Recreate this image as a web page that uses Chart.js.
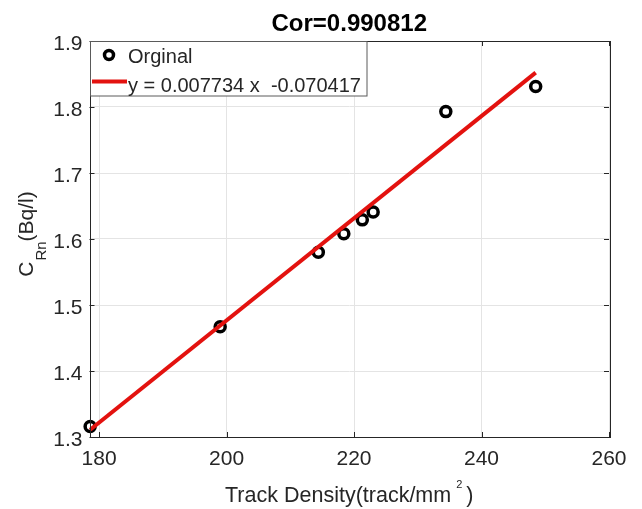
<!DOCTYPE html>
<html><head><meta charset="utf-8">
<script src="https://cdn.jsdelivr.net/npm/chart.js@4"></script>
<style>html,body{margin:0;padding:0;background:#fff}#wrap{width:642px;height:509px}</style>
</head><body><div id="wrap"><canvas id="c" width="642" height="509"></canvas></div>
<script>
const trackDensity = [178.6, 199.0, 214.4, 218.4, 221.3, 223.0, 234.4, 248.5];
const cRn = [1.316, 1.467, 1.580, 1.608, 1.629, 1.641, 1.793, 1.831];
const fitX = [178.6, 248.5];
const fitY = [1.311, 1.852];
const xTicks = [180, 200, 220, 240, 260];
const yTicks = [1.3, 1.4, 1.5, 1.6, 1.7, 1.8, 1.9];
const titleText = 'Cor=0.990812';
const legendLabels = ['Orginal', 'y = 0.007734 x  -0.070417'];
const xTitle = ['Track Density(track/mm', '2', ')'];
const yTitle = ['C', 'Rn', '(Bq/l)'];

const FONT = '"Liberation Sans", Arial, Helvetica, sans-serif';
const TXT = '#262626';
const RED = '#e3120f';

const decor = {
  id: 'decor',
  afterDraw(chart) {
    const ctx = chart.ctx, a = chart.chartArea;
    const xs = chart.scales.x, ys = chart.scales.y;
    ctx.save();
    // box
    ctx.strokeStyle = TXT; ctx.lineWidth = 1;
    ctx.strokeRect(Math.round(a.left) + 0.5, Math.round(a.top) + 0.5, Math.round(a.right - a.left), Math.round(a.bottom - a.top));
    // inward ticks
    ctx.beginPath();
    xTicks.forEach(v => {
      const px = Math.round(xs.getPixelForValue(v)) + 0.5;
      ctx.moveTo(px, a.bottom); ctx.lineTo(px, a.bottom - 5);
      ctx.moveTo(px, a.top); ctx.lineTo(px, a.top + 5);
    });
    yTicks.forEach(v => {
      const py = Math.round(ys.getPixelForValue(v)) + 0.5;
      ctx.moveTo(a.left, py); ctx.lineTo(a.left + 5, py);
      ctx.moveTo(a.right, py); ctx.lineTo(a.right - 5, py);
    });
    ctx.stroke();
    // title
    ctx.fillStyle = '#000';
    ctx.font = 'bold 24px ' + FONT;
    ctx.textAlign = 'center'; ctx.textBaseline = 'alphabetic';
    ctx.fillText(titleText, (a.left + a.right) / 2, 31);
    // x title
    ctx.fillStyle = TXT;
    ctx.textAlign = 'left';
    ctx.font = '21.5px ' + FONT;
    const w1 = ctx.measureText(xTitle[0]).width;
    const w3 = ctx.measureText(xTitle[2]).width;
    ctx.font = '11px ' + FONT;
    const w2 = ctx.measureText(xTitle[1]).width;
    const total = w1 + 5 + w2 + 4 + w3;
    let x0 = (a.left + a.right) / 2 - total / 2;
    const by = 502;
    ctx.font = '21.5px ' + FONT;
    ctx.fillText(xTitle[0], x0, by);
    ctx.font = '11px ' + FONT;
    ctx.fillText(xTitle[1], x0 + w1 + 5, by - 14);
    ctx.font = '21.5px ' + FONT;
    ctx.fillText(xTitle[2], x0 + w1 + 5 + w2 + 4, by);
    // y title
    ctx.save();
    ctx.translate(33, 234);
    ctx.rotate(-Math.PI / 2);
    ctx.font = '21px ' + FONT;
    const c1 = ctx.measureText(yTitle[0]).width;
    const c3 = ctx.measureText(yTitle[2]).width;
    ctx.font = '15px ' + FONT;
    const c2 = ctx.measureText(yTitle[1]).width;
    const tt = c1 + c2 + c3 + 1;
    let sx = -tt / 2;
    ctx.font = '21px ' + FONT;
    ctx.fillText(yTitle[0], sx, 0);
    ctx.font = '15px ' + FONT;
    ctx.fillText(yTitle[1], sx + c1 + 1, 13);
    ctx.font = '21px ' + FONT;
    ctx.fillText(yTitle[2], sx + c1 + 1 + c2, 0);
    ctx.restore();
    // legend
    const L = 90, T = 41.5, R = 366.5, B = 96;
    ctx.fillStyle = '#fff';
    ctx.fillRect(L, T, R - L, B - T);
    ctx.strokeStyle = '#5a5a5a'; ctx.lineWidth = 1;
    ctx.strokeRect(L + 0.5, T, R - L, B - T);
    ctx.beginPath();
    ctx.arc(109, 55, 4.5, 0, Math.PI * 2);
    ctx.strokeStyle = '#000'; ctx.lineWidth = 3.5; ctx.stroke();
    ctx.beginPath();
    ctx.moveTo(92, 81.5); ctx.lineTo(127, 81.5);
    ctx.strokeStyle = RED; ctx.lineWidth = 4; ctx.stroke();
    ctx.fillStyle = TXT;
    ctx.font = '20px ' + FONT;
    ctx.fillText(legendLabels[0], 128, 63);
    ctx.fillText(legendLabels[1], 128, 92);
    ctx.restore();
  }
};

new Chart(document.getElementById('c'), {
  type: 'scatter',
  data: {
    datasets: [
      {
        label: legendLabels[1],
        data: fitX.map((x, i) => ({x, y: fitY[i]})),
        showLine: true,
        borderColor: RED,
        borderWidth: 4,
        pointRadius: 0,
        order: 0,
        clip: false
      },
      {
        label: legendLabels[0],
        data: trackDensity.map((x, i) => ({x, y: cRn[i]})),
        showLine: false,
        pointStyle: 'circle',
        pointRadius: 5,
        pointBorderWidth: 3.5,
        pointBorderColor: '#000',
        pointBackgroundColor: 'rgba(0,0,0,0)',
        order: 1,
        clip: false
      }
    ]
  },
  options: {
    responsive: false,
    animation: false,
    devicePixelRatio: 1,
    layout: { padding: { top: 41, right: 33, left: 0, bottom: 0 } },
    plugins: { legend: { display: false }, title: { display: false }, tooltip: { enabled: false } },
    scales: {
      x: {
        type: 'linear', min: 178.5, max: 260,
        afterBuildTicks: s => { s.ticks = xTicks.map(v => ({value: v})); },
        afterFit: s => { s.height = 72; },
        grid: { color: '#e4e4e4', drawTicks: false },
        border: { display: false },
        ticks: { color: TXT, font: { size: 21, family: FONT }, padding: 10, maxRotation: 0, callback: v => String(v) }
      },
      y: {
        type: 'linear', min: 1.3, max: 1.9,
        afterBuildTicks: s => { s.ticks = yTicks.map(v => ({value: v})); },
        afterFit: s => { s.width = 89.5; },
        grid: { color: '#e4e4e4', drawTicks: false },
        border: { display: false },
        ticks: { color: TXT, font: { size: 21, family: FONT }, padding: 7, labelOffset: 3, callback: v => Number(v).toFixed(1) }
      }
    }
  },
  plugins: [decor]
});
</script>
</body></html>
